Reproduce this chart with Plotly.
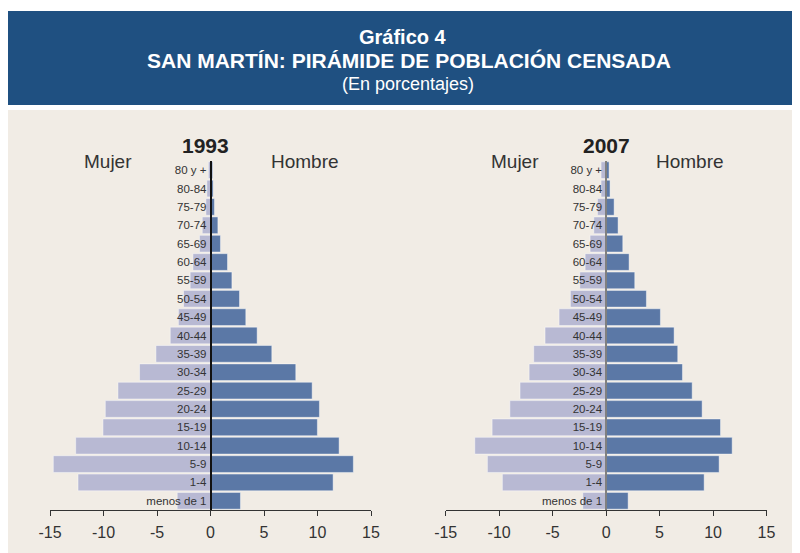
import plotly.graph_objects as go

ages = ["menos de 1", "1-4", "5-9", "10-14", "15-19", "20-24", "25-29", "30-34",
        "35-39", "40-44", "45-49", "50-54", "55-59", "60-64", "65-69", "70-74",
        "75-79", "80-84", "80 y +"]

mujer_1993 = [3.11, 12.38, 14.69, 12.6, 10.05, 9.83, 8.65, 6.63, 5.1, 3.76, 3.0,
              2.52, 1.9, 1.64, 1.03, 0.77, 0.43, 0.34, 0.2]
hombre_1993 = [2.8, 11.46, 13.35, 12.02, 9.99, 10.18, 9.5, 7.97, 5.73, 4.36, 3.3,
               2.71, 2.0, 1.59, 0.93, 0.69, 0.37, 0.25, 0.2]
mujer_2007 = [2.18, 9.7, 11.1, 12.28, 10.66, 9.0, 8.05, 7.2, 6.77, 5.71, 4.4,
              3.34, 2.46, 1.96, 1.5, 1.15, 0.81, 0.47, 0.47]
hombre_2007 = [2.06, 9.17, 10.57, 11.79, 10.7, 8.98, 8.05, 7.14, 6.7, 6.36, 5.08,
               3.77, 2.68, 2.15, 1.56, 1.12, 0.75, 0.37, 0.28]

x_ticks = [-15, -10, -5, 0, 5, 10, 15]

FEM = "#B8B9D3"
MAS = "#5B78A6"
BLUE = "#1F5081"
BEIGE = "#F1ECE5"
FONT = "Liberation Sans, Arial, sans-serif"

W, H = 800, 553
OFF = 8  # page offset of the figure


def px(x):
    return (x - OFF) / W


def py(y):
    return 1 - (y - OFF) / H


dom1 = [px(50), px(371)]
dom2 = [px(445.7), px(766.5)]
ydom = [py(510), py(161)]

fig = go.Figure()
bar_line = dict(color="rgba(255,255,255,0.55)", width=0.8)
fig.add_trace(go.Bar(y=ages, x=[-v for v in mujer_1993], orientation="h",
                     marker=dict(color=FEM, line=bar_line), xaxis="x", yaxis="y",
                     hoverinfo="skip"))
fig.add_trace(go.Bar(y=ages, x=hombre_1993, orientation="h",
                     marker=dict(color=MAS, line=bar_line), xaxis="x", yaxis="y",
                     hoverinfo="skip"))
fig.add_trace(go.Bar(y=ages, x=[-v for v in mujer_2007], orientation="h",
                     marker=dict(color=FEM, line=bar_line), xaxis="x2", yaxis="y2",
                     hoverinfo="skip"))
fig.add_trace(go.Bar(y=ages, x=hombre_2007, orientation="h",
                     marker=dict(color=MAS, line=bar_line), xaxis="x2", yaxis="y2",
                     hoverinfo="skip"))

xcommon = dict(range=[-15, 15], tickvals=x_ticks, ticktext=[str(v) for v in x_ticks],
               showgrid=False, zeroline=False, showline=True, linecolor="#333333",
               linewidth=1, ticks="outside", ticklen=5, tickcolor="#333333",
               tickfont=dict(family=FONT, size=16, color="#333333"),
               ticklabelstandoff=3, automargin=False)
ycommon = dict(type="category", categoryorder="array", categoryarray=ages,
               range=[-0.5, len(ages) - 0.5], domain=ydom,
               showgrid=False, zeroline=False, ticks="", showline=True,
               linewidth=1.5, anchor="free", automargin=False,
               tickfont=dict(family=FONT, size=11.5, color="#333333"),
               ticklabelstandoff=1)

fig.update_layout(
    width=W, height=H,
    margin=dict(l=0, r=0, t=0, b=0, pad=0, autoexpand=False),
    paper_bgcolor="white", plot_bgcolor="rgba(0,0,0,0)",
    barmode="overlay", bargap=0.09, showlegend=False,
    xaxis=dict(domain=dom1, anchor="y", **xcommon),
    yaxis=dict(position=(dom1[0] + dom1[1]) / 2, linecolor="#111111", **ycommon),
    xaxis2=dict(domain=dom2, anchor="y2", **xcommon),
    yaxis2=dict(position=(dom2[0] + dom2[1]) / 2, linecolor="#808080", **ycommon),
    shapes=[
        dict(type="rect", xref="paper", yref="paper", x0=0, x1=1,
             y0=-0.05, y1=py(110), fillcolor=BEIGE, line=dict(width=0), layer="below"),
        dict(type="rect", xref="paper", yref="paper", x0=px(7), x1=1,
             y0=py(105), y1=py(11), fillcolor=BLUE, line=dict(width=0), layer="below"),
    ],
)

ann = [
    dict(text="<b>Gráfico 4</b>", x=403, y=37, size=20, color="white"),
    dict(text="<b>SAN MARTÍN: PIRÁMIDE DE POBLACIÓN CENSADA</b>", x=409, y=60,
         size=21, color="white"),
    dict(text="(En porcentajes)", x=408, y=84, size=18, color="white"),
    dict(text="<b>1993</b>", x=205, y=145, size=21, color="#222222"),
    dict(text="<b>2007</b>", x=606, y=145, size=21, color="#222222"),
    dict(text="Mujer", x=108, y=162, size=19, color="#333333"),
    dict(text="Hombre", x=305, y=162, size=19, color="#333333"),
    dict(text="Mujer", x=515, y=162, size=19, color="#333333"),
    dict(text="Hombre", x=690, y=162, size=19, color="#333333"),
]
fig.update_layout(annotations=[
    dict(text=a["text"], x=px(a["x"]), y=py(a["y"]), xref="paper", yref="paper",
         xanchor="center", yanchor="middle", showarrow=False,
         font=dict(family=FONT, size=a["size"], color=a["color"]))
    for a in ann
])

fig.write_html("out.html")
